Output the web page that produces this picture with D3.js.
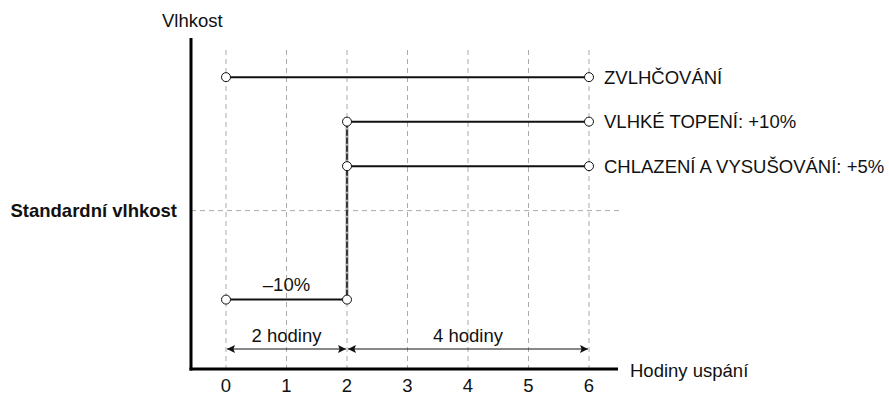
<!DOCTYPE html>
<html>
<head>
<meta charset="utf-8">
<script src="https://cdn.jsdelivr.net/npm/d3@7"></script>
<style>
  body { margin: 0; background: #fff; }
  text { font-family: "Liberation Sans", Arial, sans-serif; fill: #111; font-size: 18.5px; }
  .grid line { stroke: #aaa; stroke-dasharray: 5,4; stroke-width: 1; }
  .level { stroke: #111; stroke-width: 2; }
  .dot { fill: #fff; stroke: #111; stroke-width: 1; }
</style>
</head>
<body>
<div id="chart"></div>
<script>
  // hours of sleep mode on the x axis
  var hours = [0, 1, 2, 3, 4, 5, 6];
  // humidity relative to the standard level, in %
  var modes = ["ZVLHČOVÁNÍ", "VLHKÉ TOPENÍ: +10%", "CHLAZENÍ A VYSUŠOVÁNÍ: +5%"];
  var modeLevels = [15, 10, 5];
  var modeStart = [0, 2, 2];
  var modeEnd = [6, 6, 6];
  var dropLevel = -10, dropStart = 0, dropEnd = 2;
  var dropLabel = "–10%";
  var spans = [[0, 2, "2 hodiny"], [2, 6, "4 hodiny"]];

  var width = 889, height = 396;

  var svg = d3.select("#chart")
    .append("svg")
    .attr("width", width)
    .attr("height", height);

  var defs = svg.append("defs");
  defs.append("marker")
    .attr("id", "arrow")
    .attr("viewBox", "0 0 10 10")
    .attr("refX", 10).attr("refY", 5)
    .attr("markerWidth", 14).attr("markerHeight", 8)
    .attr("markerUnits", "userSpaceOnUse")
    .attr("orient", "auto-start-reverse")
    .append("path")
    .attr("d", "M0,0L10,5L0,10L2,5Z")
    .attr("fill", "#111");

  var x = d3.scaleLinear().domain([0, 6]).range([226, 589]);
  var y = d3.scaleLinear().domain([-17.8, 19.4]).range([369, 38]);

  var axisX0 = 191, axisXEnd = 618;

  // dashed grid
  var grid = svg.append("g").attr("class", "grid");
  grid.selectAll(".v").data(hours).enter().append("line")
    .attr("x1", function(d) { return x(d); })
    .attr("x2", function(d) { return x(d); })
    .attr("y1", 50)
    .attr("y2", y(-17.8));
  grid.append("line")
    .attr("x1", axisX0).attr("x2", 620)
    .attr("y1", y(0)).attr("y2", y(0));

  // axes
  svg.append("line")
    .attr("x1", axisX0).attr("x2", axisX0)
    .attr("y1", y(19.4)).attr("y2", y(-17.8) + 1.5)
    .attr("stroke", "#000").attr("stroke-width", 3);
  svg.append("line")
    .attr("x1", axisX0 - 1.5).attr("x2", axisXEnd)
    .attr("y1", y(-17.8)).attr("y2", y(-17.8))
    .attr("stroke", "#000").attr("stroke-width", 3);

  svg.selectAll(".tick").data(hours).enter().append("text")
    .attr("x", function(d) { return x(d); })
    .attr("y", 392)
    .attr("text-anchor", "middle")
    .text(function(d) { return d; });

  svg.append("text").attr("x", 162).attr("y", 27).text("Vlhkost");
  svg.append("text").attr("x", 630).attr("y", 377).text("Hodiny uspání");
  svg.append("text").attr("x", 177).attr("y", y(0) + 6.5)
    .attr("text-anchor", "end")
    .attr("font-weight", "bold")
    .text("Standardní vlhkost");

  // vertical step at hour 2: grey line under a black dashed one
  var stepTop = y(d3.max(modeLevels.slice(1))), stepBottom = y(dropLevel);
  svg.append("line")
    .attr("x1", x(2)).attr("x2", x(2))
    .attr("y1", stepTop).attr("y2", stepBottom)
    .attr("stroke", "#aaa").attr("stroke-width", 3);
  svg.append("line")
    .attr("x1", x(2)).attr("x2", x(2))
    .attr("y1", stepTop).attr("y2", stepBottom)
    .attr("stroke", "#111").attr("stroke-width", 1.5)
    .attr("stroke-dasharray", "6,2");

  // level lines
  var lv = svg.selectAll(".mode").data(modes).enter().append("g");
  lv.append("line").attr("class", "level")
    .attr("x1", function(d, i) { return x(modeStart[i]); })
    .attr("x2", function(d, i) { return x(modeEnd[i]); })
    .attr("y1", function(d, i) { return y(modeLevels[i]); })
    .attr("y2", function(d, i) { return y(modeLevels[i]); });
  lv.append("text")
    .attr("x", function(d, i) { return x(modeEnd[i]) + 15; })
    .attr("y", function(d, i) { return y(modeLevels[i]) + 6.5; })
    .text(function(d) { return d; });

  svg.append("line").attr("class", "level")
    .attr("x1", x(dropStart)).attr("x2", x(dropEnd))
    .attr("y1", y(dropLevel)).attr("y2", y(dropLevel));
  svg.append("text")
    .attr("x", (x(dropStart) + x(dropEnd)) / 2).attr("y", y(dropLevel) - 9)
    .attr("text-anchor", "middle")
    .text(dropLabel);

  // end point circles
  var pts = [];
  modes.forEach(function(m, i) {
    pts.push([modeStart[i], modeLevels[i]], [modeEnd[i], modeLevels[i]]);
  });
  pts.push([dropStart, dropLevel], [dropEnd, dropLevel]);
  svg.selectAll(".dot").data(pts).enter().append("circle")
    .attr("class", "dot")
    .attr("cx", function(d) { return x(d[0]); })
    .attr("cy", function(d) { return y(d[1]); })
    .attr("r", 4.5);

  // duration arrows
  var ay = 349;
  var sp = svg.selectAll(".span").data(spans).enter().append("g");
  sp.append("line")
    .attr("x1", function(d) { return x(d[0]) + 1; })
    .attr("x2", function(d) { return x(d[1]) - 1; })
    .attr("y1", ay).attr("y2", ay)
    .attr("stroke", "#111").attr("stroke-width", 1)
    .attr("marker-start", "url(#arrow)")
    .attr("marker-end", "url(#arrow)");
  sp.append("text")
    .attr("x", function(d) { return (x(d[0]) + x(d[1])) / 2; })
    .attr("y", ay - 7)
    .attr("text-anchor", "middle")
    .text(function(d) { return d[2]; });
</script>
</body>
</html>
